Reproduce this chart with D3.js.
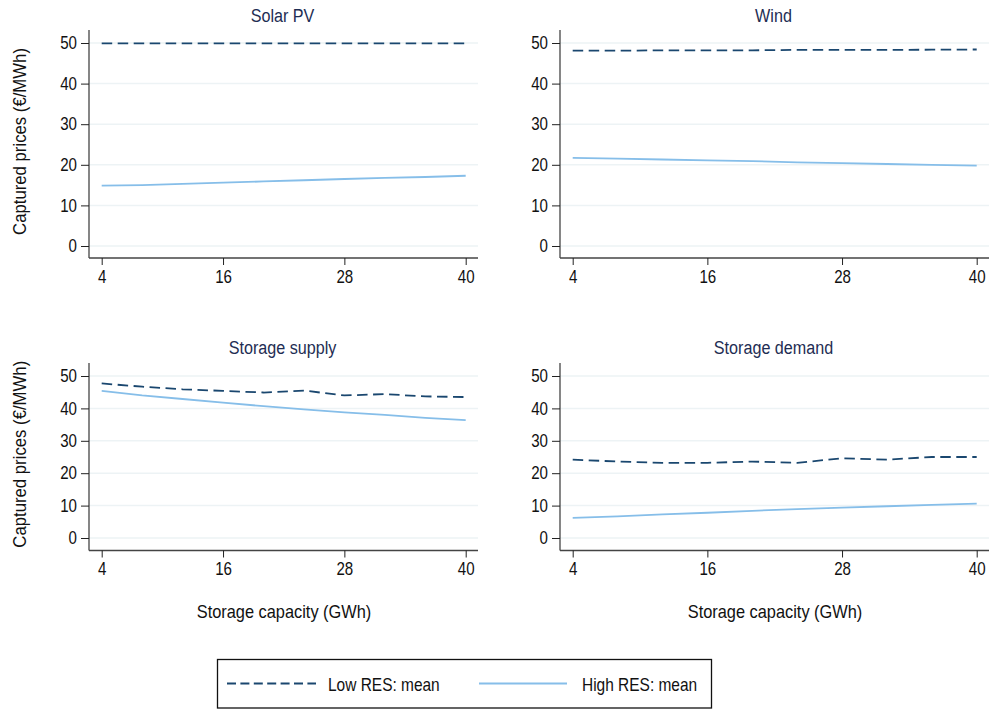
<!DOCTYPE html>
<html>
<head>
<meta charset="utf-8">
<script src="https://cdn.jsdelivr.net/npm/d3@7"></script>
<style>
  body { margin: 0; background: #fff; }
  text { font-family: "Liberation Sans", Arial, sans-serif; }
</style>
</head>
<body>
<div class="canvas"></div>
<script>
// storage capacity (GWh)
const capacity = [4, 8, 12, 16, 20, 24, 28, 32, 36, 40];
const xTicks = [4, 16, 28, 40];
const yTicks = [0, 10, 20, 30, 40, 50];

const panelTitles = ["Solar PV", "Wind", "Storage supply", "Storage demand"];

// captured prices, low RES mean (dashed)
const solarLow = [49.9, 49.9, 49.9, 49.9, 49.9, 49.9, 49.9, 49.9, 49.9, 49.9];
const windLow = [48.1, 48.1, 48.2, 48.2, 48.2, 48.3, 48.3, 48.3, 48.35, 48.4];
const supplyLow = [47.7, 46.7, 45.9, 45.4, 44.9, 45.5, 44.0, 44.4, 43.7, 43.5];
const demandLow = [24.2, 23.6, 23.2, 23.2, 23.6, 23.2, 24.6, 24.2, 25.0, 25.0];

// captured prices, high RES mean (solid)
const solarHigh = [14.85, 15.0, 15.3, 15.6, 15.9, 16.2, 16.5, 16.8, 17.0, 17.3];
const windHigh = [21.7, 21.5, 21.3, 21.1, 20.9, 20.6, 20.4, 20.2, 20.0, 19.8];
const supplyHigh = [45.4, 44.0, 42.9, 41.8, 40.7, 39.7, 38.8, 38.0, 37.1, 36.4];
const demandHigh = [6.2, 6.7, 7.3, 7.8, 8.4, 8.9, 9.4, 9.8, 10.2, 10.6];

const lowSeries = [solarLow, windLow, supplyLow, demandLow];
const highSeries = [solarHigh, windHigh, supplyHigh, demandHigh];

const darkNavy = "#1a476f";
const lightBlue = "#86bee9";
const gridCol = "#edf3f5";
const titleCol = "#1e2d53";

const svg = d3.select('.canvas')
  .append('svg')
  .attr('width', 990)
  .attr('height', 709)
  .style('background', '#fff');

// the original lettering is tall and narrow, so squeeze text sideways
function squeeze(sel, sx) {
  sel.each(function() {
    const t = d3.select(this);
    const x = +t.attr('x') || 0;
    const y = +t.attr('y') || 0;
    t.attr('x', 0).attr('y', 0)
      .attr('transform', `translate(${x},${y}) scale(${sx},1)`);
  });
}

// panel frames: left/right columns, top/bottom rows
const cols = [
  {left: 89, right: 478, x0: 101.7, x1: 465.7},
  {left: 560, right: 989, x0: 572.7, x1: 976.7}
];
const rows = [
  {top: 30, bottom: 258, y0: 246, y50: 43, titleY: 21.5},
  {top: 363, bottom: 550.5, y0: 538, y50: 376, titleY: 353.5}
];

panelTitles.forEach((title, i) => {
  const c = cols[i % 2];
  const r = rows[Math.floor(i / 2)];

  const x = d3.scaleLinear().domain([4, 40]).range([c.x0, c.x1]);
  const y = d3.scaleLinear().domain([0, 50]).range([r.y0, r.y50]);

  const g = svg.append('g');

  // gridlines
  g.selectAll('.grid')
    .data(yTicks)
    .enter()
    .append('line')
    .attr('x1', c.left)
    .attr('x2', c.right)
    .attr('y1', d => y(d))
    .attr('y2', d => y(d))
    .attr('stroke', gridCol)
    .attr('stroke-width', 1.5);

  // y axis
  const yAxis = g.append('g')
    .attr('transform', `translate(${c.left},0)`)
    .call(d3.axisLeft(y).tickValues(yTicks).tickSize(8).tickPadding(4));
  yAxis.select('.domain').attr('d', `M0,${r.top}V${r.bottom}`).attr('stroke', '#444').attr('stroke-width', 1.3);
  yAxis.selectAll('.tick line').attr('stroke', '#222');
  yAxis.selectAll('.tick text')
    .attr('font-size', 18)
    .attr('fill', '#111')
    .style('font-family', '"Liberation Sans", Arial, sans-serif')
    .call(squeeze, 0.84);

  // x axis
  const xAxis = g.append('g')
    .attr('transform', `translate(0,${r.bottom})`)
    .call(d3.axisBottom(x).tickValues(xTicks).tickSize(7).tickPadding(5));
  xAxis.select('.domain').attr('d', `M${c.left},0H${c.right}`).attr('stroke', '#444').attr('stroke-width', 1.3);
  xAxis.selectAll('.tick line').attr('stroke', '#222');
  xAxis.selectAll('.tick text')
    .attr('font-size', 18)
    .attr('fill', '#111')
    .style('font-family', '"Liberation Sans", Arial, sans-serif')
    .call(squeeze, 0.84);

  const line = d3.line()
    .x((d, j) => x(capacity[j]))
    .y(d => y(d));

  g.append('path')
    .datum(highSeries[i])
    .attr('d', line)
    .attr('fill', 'none')
    .attr('stroke', lightBlue)
    .attr('stroke-width', 1.8);

  g.append('path')
    .datum(lowSeries[i])
    .attr('d', line)
    .attr('fill', 'none')
    .attr('stroke', darkNavy)
    .attr('stroke-width', 1.8)
    .attr('stroke-dasharray', '10.5,5.5');

  // panel title
  g.append('text')
    .attr('x', (c.left + c.right) / 2 - 1)
    .attr('y', r.titleY)
    .attr('text-anchor', 'middle')
    .attr('font-size', 19)
    .attr('fill', titleCol)
    .text(title)
    .call(squeeze, 0.85);
});

// y axis titles
rows.forEach(r => {
  svg.append('text')
    .attr('transform', `translate(26,${(r.top + r.bottom) / 2 - 2.5}) rotate(-90) scale(0.93,1)`)
    .attr('text-anchor', 'middle')
    .attr('font-size', 18)
    .attr('fill', '#111')
    .text('Captured prices (€/MWh)');
});

// x axis titles
cols.forEach(c => {
  svg.append('text')
    .attr('x', (c.left + c.right) / 2 + 0.5)
    .attr('y', 618)
    .attr('text-anchor', 'middle')
    .attr('font-size', 18)
    .attr('fill', '#111')
    .text('Storage capacity (GWh)')
    .call(squeeze, 0.91);
});

// legend
const legend = svg.append('g');
legend.append('rect')
  .attr('x', 217.5)
  .attr('y', 659.5)
  .attr('width', 494)
  .attr('height', 48.5)
  .attr('fill', '#fff')
  .attr('stroke', '#111')
  .attr('stroke-width', 1.3);

legend.append('line')
  .attr('x1', 227).attr('x2', 316)
  .attr('y1', 683.5).attr('y2', 683.5)
  .attr('stroke', darkNavy)
  .attr('stroke-width', 1.8)
  .attr('stroke-dasharray', '9,4.4');

legend.append('text')
  .attr('x', 328).attr('y', 690.5)
  .attr('font-size', 18)
  .attr('fill', '#111')
  .text('Low RES: mean')
  .call(squeeze, 0.86);

legend.append('line')
  .attr('x1', 479).attr('x2', 567)
  .attr('y1', 683.5).attr('y2', 683.5)
  .attr('stroke', lightBlue)
  .attr('stroke-width', 1.8);

legend.append('text')
  .attr('x', 582).attr('y', 690.5)
  .attr('font-size', 18)
  .attr('fill', '#111')
  .text('High RES: mean')
  .call(squeeze, 0.86);
</script>
</body>
</html>
